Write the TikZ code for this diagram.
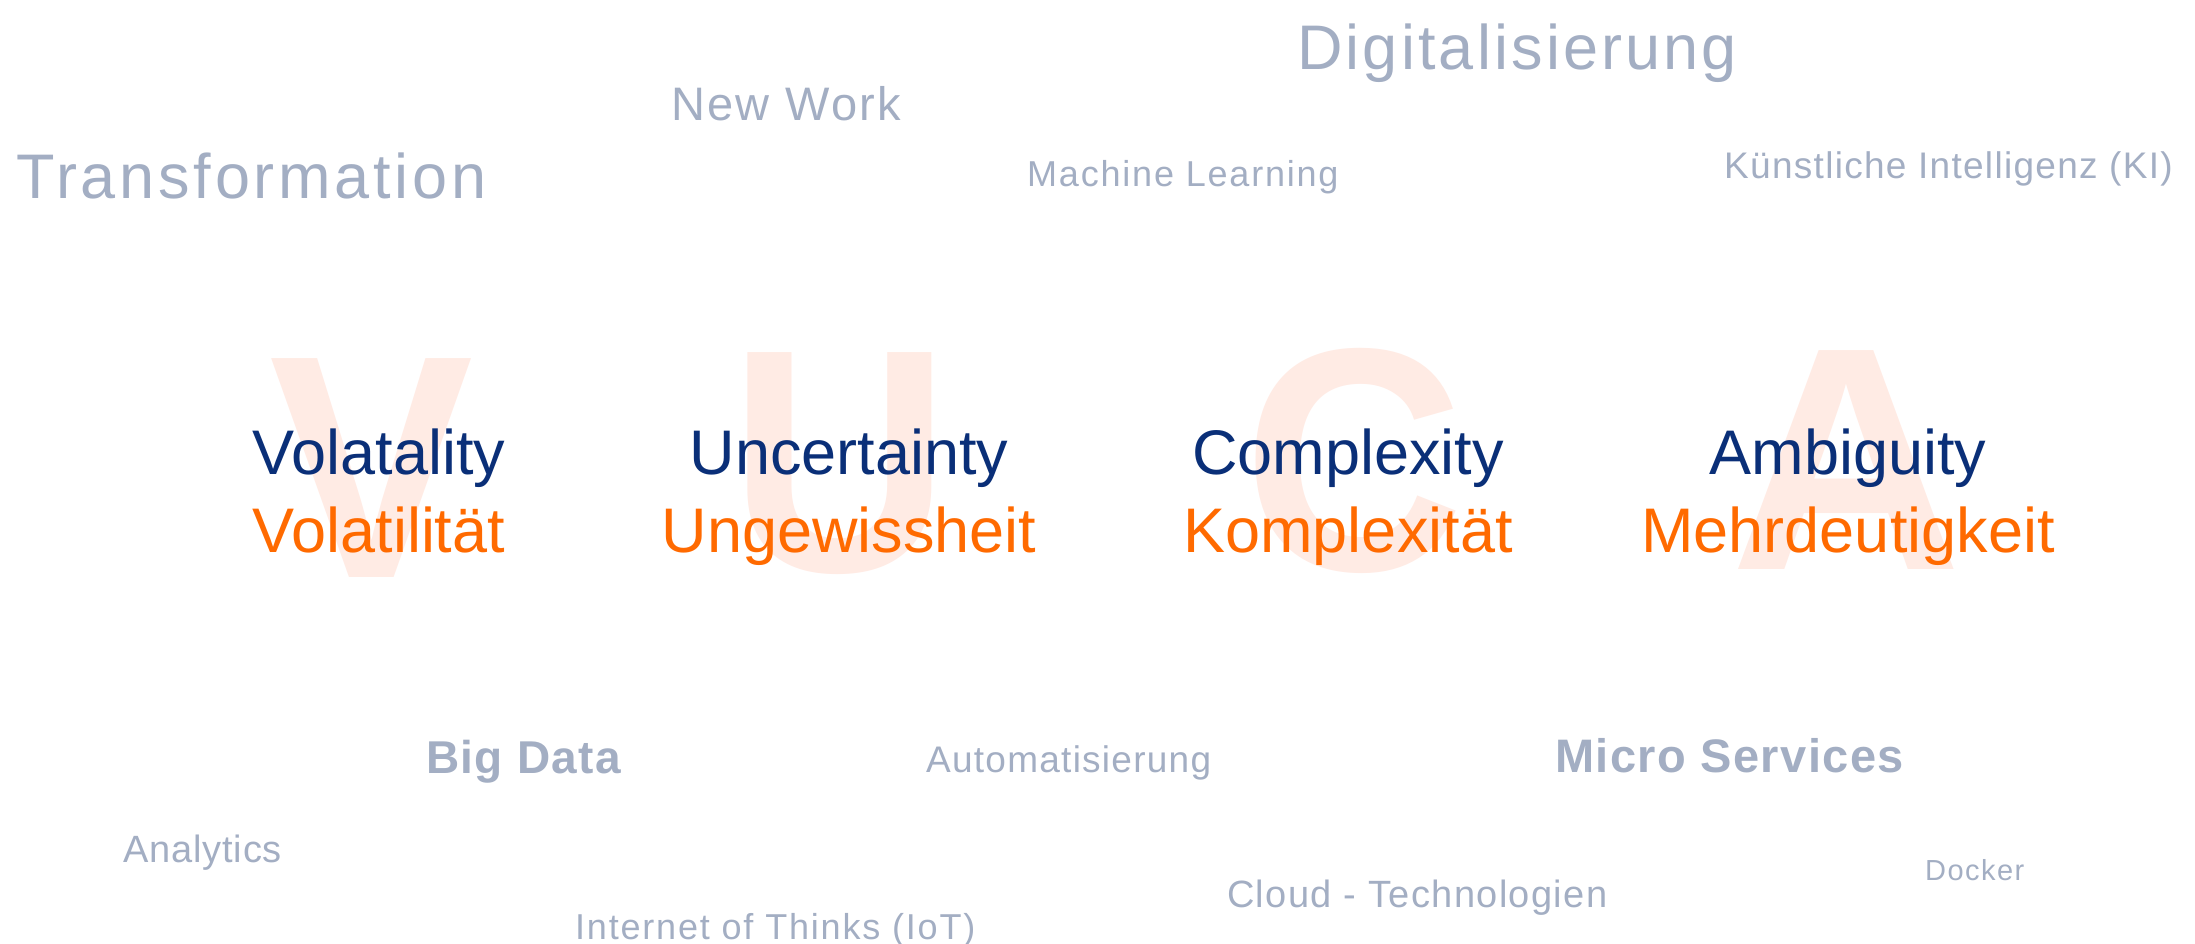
\documentclass[tikz,border=0pt]{standalone}
\usepackage{fontspec}
\setmainfont{Liberation Sans}
\newfontfamily\trk[LetterSpace=5]{Liberation Sans}
\newfontfamily\trkb[LetterSpace=3]{Liberation Sans Bold}
\newfontfamily\bgf{Liberation Sans Bold}
\definecolor{grayw}{HTML}{A3AEC3}
\definecolor{navy}{HTML}{0A2F78}
\definecolor{orng}{HTML}{FF6A00}
\definecolor{peach}{HTML}{FFEBE4}
\newcommand{\fsz}[1]{\fontsize{#1}{#1}\selectfont}
\newcommand{\lsp}[1]{\addfontfeature{LetterSpace=#1}}
\tikzset{
  gw/.style={anchor=base west, inner sep=0pt, text=grayw},
  en/.style={anchor=base, inner sep=0pt, text=navy, font=\fsz{63}},
  de/.style={anchor=base, inner sep=0pt, text=orng, font=\fsz{63}},
  bgl/.style={anchor=base, inner sep=0pt, text=peach, font=\bgf\fsz{306}, yscale=1.04},
}
\begin{document}
\begin{tikzpicture}[x=1pt,y=-1pt]
\fill[white] (0,0) rectangle (2195,944);
\useasboundingbox (0,0) rectangle (2195,944);
% background letters
\node[bgl] (bgV) at (372,577) {V};
\node[bgl] (bgU) at (840,571) {U};
\node[bgl] (bgC) at (1354,570) {C};
\node[bgl, xscale=1.05] (bgA) at (1846,569) {A};
% main words
\node[en] (vol) at (379,474) {Volatality};
\node[de] (volde) at (379,552) {Volatilität};
\node[en] (unc) at (849,474) {Uncertainty};
\node[de] (uncde) at (849,552) {Ungewissheit};
\node[en] (com) at (1348,474) {Complexity};
\node[de] (comde) at (1348,552) {Komplexität};
\node[en] (amb) at (1848,474) {Ambiguity};
\node[de] (ambde) at (1848,552) {Mehrdeutigkeit};
% gray words top
\node[gw, font=\trk\lsp{6}\fsz{63}] (trans) at (16,199) {Transformation};
\node[gw, font=\trk\fsz{47}] (newwork) at (671,121) {New Work};
\node[gw, font=\trk\fsz{63}] (digi) at (1297,70) {Digitalisierung};
\node[gw, font=\trk\fsz{36}] (ml) at (1027,187) {Machine Learning};
\node[gw, font=\trk\lsp{3.5}\fsz{37}] (ki) at (1724,179) {Künstliche Intelligenz (KI)};
% gray words bottom
\node[gw, font=\trkb\fsz{46}] (bigdata) at (426,773) {Big Data};
\node[gw, font=\trk\lsp{3.4}\fsz{37}] (auto) at (926,772) {Automatisierung};
\node[gw, font=\trkb\fsz{47}] (micro) at (1555,772) {Micro Services};
\node[gw, font=\trk\lsp{2.2}\fsz{38}] (analytics) at (123,862) {Analytics};
\node[gw, font=\trk\lsp{3.6}\fsz{38}] (cloud) at (1227,907) {Cloud - Technologien};
\node[gw, font=\trk\fsz{29}] (docker) at (1925,880) {Docker};
\node[gw, font=\trk\fsz{36}] (iot) at (575,939) {Internet of Thinks (IoT)};
\end{tikzpicture}
\end{document}
